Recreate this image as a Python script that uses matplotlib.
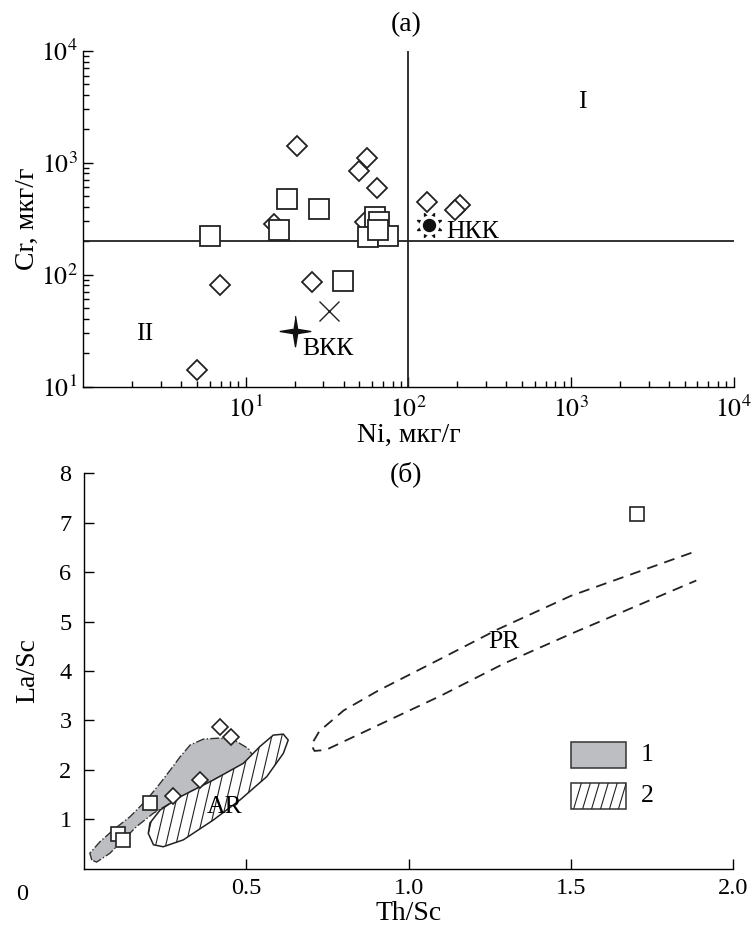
import numpy as np
import matplotlib
matplotlib.use('Agg')
import matplotlib.pyplot as plt
from matplotlib.patches import Polygon, Rectangle
from matplotlib.lines import Line2D

plt.rcParams['font.family'] = ['Liberation Serif', 'DejaVu Serif']
plt.rcParams['mathtext.fontset'] = 'stix'

# panel (а): Ni vs Cr, мкг/г
ni_diamond = [20.7, 55.5, 49.9, 63.9, 14.8, 54.1, 129.8, 208, 194, 6.94, 25.7, 4.99]
cr_diamond = [1403, 1102, 843, 594, 285, 295, 445, 416, 375, 81.5, 86.6, 14.1]
ni_square = [6.02, 18.0, 28.1, 16.0, 62.4, 66.0, 56.7, 75.3, 65.3, 39.8]
cr_square = [221, 470, 383, 252, 327, 295, 216, 219, 252, 87.3]
ni_cross, cr_cross = [32.6], [47.7]
ni_ucc, cr_ucc = [20.1], [31.6]     # ВКК
ni_lcc, cr_lcc = [134.6], [275]     # НКК
ni_limit, cr_limit = 100, 200

# panel (б): Th/Sc vs La/Sc
thsc_diamond = [0.419, 0.452, 0.357, 0.273]
lasc_diamond = [2.87, 2.66, 1.79, 1.47]
thsc_square = [0.203, 0.104, 0.119, 1.703]
lasc_square = [1.32, 0.70, 0.58, 7.17]

field1_x = [0.024, 0.018, 0.049, 0.090, 0.142, 0.193, 0.234, 0.270, 0.296, 0.327, 0.368, 0.419,
            0.470, 0.506, 0.522, 0.511, 0.470, 0.398, 0.327, 0.265, 0.214, 0.162, 0.121, 0.080, 0.039]
field1_y = [0.17, 0.31, 0.54, 0.78, 1.05, 1.39, 1.72, 2.03, 2.26, 2.50, 2.62, 2.64,
            2.57, 2.43, 2.26, 2.16, 2.03, 1.79, 1.55, 1.32, 1.12, 0.85, 0.58, 0.31, 0.13]
ar_x = [0.198, 0.214, 0.244, 0.306, 0.398, 0.481, 0.563, 0.614, 0.629, 0.614, 0.583,
        0.542, 0.491, 0.398, 0.296, 0.234, 0.203]
ar_y = [0.71, 0.48, 0.44, 0.58, 0.98, 1.39, 1.86, 2.33, 2.60, 2.72, 2.70,
        2.47, 2.13, 1.79, 1.45, 1.18, 0.92]
pr_x = [1.871, 1.5, 1.274, 1.1, 0.906, 0.80, 0.725, 0.700, 0.710, 0.745,
        0.906, 1.1, 1.294, 1.5, 1.886]
pr_y = [6.39, 5.52, 4.84, 4.25, 3.60, 3.20, 2.78, 2.50, 2.38, 2.40,
        2.90, 3.50, 4.15, 4.75, 5.83]

fs_tick = 17.5
fs_lab = 20
fs_ann = 18.5
ink = '#222222'

fig = plt.figure(figsize=(7.51, 9.26), dpi=100)
ax1 = fig.add_axes([83.3 / 751, 1 - 386.5 / 926, 650.2 / 751, 335.8 / 926])
ax2 = fig.add_axes([84 / 751, 1 - 868.5 / 926, 649.3 / 751, 395.2 / 926])

for ax in (ax1, ax2):
    ax.spines['top'].set_visible(False)
    ax.spines['right'].set_visible(False)
    ax.spines['left'].set_linewidth(1.0)
    ax.spines['bottom'].set_linewidth(1.0)

# ---- (а)
ax1.set_xscale('log')
ax1.set_yscale('log')
ax1.set_xlim(1, 1e4)
ax1.set_ylim(10, 1e4)
ax1.axvline(ni_limit, color=ink, lw=1.3)
ax1.axhline(cr_limit, color=ink, lw=1.3)

ax1.plot(ni_diamond, cr_diamond, 'D', ms=10, mfc='white', mec=ink, mew=1.3, ls='none')
ax1.plot(ni_square, cr_square, 's', ms=14, mfc='white', mec=ink, mew=1.3, ls='none')
ax1.plot(ni_cross, cr_cross, 'x', ms=14, mec=ink, mew=1.0, ls='none')
star = [(0, 1), (0.14, 0.14), (1, 0), (0.14, -0.14), (0, -1), (-0.14, -0.14), (-1, 0), (-0.14, 0.14)]
ax1.plot(ni_ucc, cr_ucc, marker=star, ms=22, color='#111111', ls='none')
ax1.plot(ni_lcc, cr_lcc, marker=(8, 1, 22.5), ms=19, color='#111111', ls='none')
ax1.plot(ni_lcc, cr_lcc, 'o', ms=13.5, mfc='white', mec='white', ls='none')
ax1.plot(ni_lcc, cr_lcc, 'o', ms=8.6, mfc='#111111', mec='#111111', ls='none')

ax1.text(170, 240, 'НКК', fontsize=fs_ann, ha='left', va='center')
ax1.text(22.3, 21.7, 'ВКК', fontsize=fs_ann, ha='left', va='center')
ax1.text(1183, 3490, 'I', fontsize=fs_ann, ha='center', va='center')
ax1.text(2.40, 29.5, 'II', fontsize=fs_ann, ha='center', va='center')
ax1.text(0.497, 1.077, '(а)', fontsize=fs_lab, ha='center', va='center', transform=ax1.transAxes)

ax1.set_xticks([10, 100, 1000, 10000])
ax1.set_xticklabels([r'$10^{1}$', r'$10^{2}$', r'$10^{3}$', r'$10^{4}$'])
ax1.set_yticks([10, 100, 1000, 10000])
ax1.set_yticklabels([r'$10^{1}$', r'$10^{2}$', r'$10^{3}$', r'$10^{4}$'])
ax1.tick_params(which='major', direction='in', length=7, width=1, labelsize=fs_tick + 1, pad=7)
ax1.tick_params(which='minor', direction='in', length=4, width=1)
ax1.tick_params(axis='y', pad=4)
ax1.set_xlabel('Ni, мкг/г', fontsize=fs_lab, labelpad=0)
ax1.set_ylabel('Cr, мкг/г', fontsize=fs_lab, labelpad=1)

# ---- (б)
ax2.set_xlim(0, 2.0)
ax2.set_ylim(0, 8)

field1 = Polygon(np.column_stack([field1_x, field1_y]), closed=True, fc='#bdbec1',
                 ec='#333333', lw=1.0, ls='-.', zorder=1)
ax2.add_patch(field1)
ar = Polygon(np.column_stack([ar_x, ar_y]), closed=True, fc='white', ec=ink,
             lw=1.1, zorder=2)
ax2.add_patch(ar)
ar_clip = Polygon(np.column_stack([ar_x, ar_y]), closed=True, transform=ax2.transData)
for x0 in np.arange(0.08, 0.75, 0.031):
    ln = Line2D([x0, x0 + 0.107], [0, 3], color=ink, lw=0.8, zorder=2.5)
    ax2.add_line(ln)
    ln.set_clip_path(ar_clip)
ax2.plot(pr_x, pr_y, color=ink, lw=1.3, dashes=(6, 4), zorder=2)

ax2.plot(thsc_diamond, lasc_diamond, 'D', ms=7.8, mfc='white', mec=ink, mew=1.2, ls='none', zorder=3)
ax2.plot(thsc_square, lasc_square, 's', ms=10.5, mfc='white', mec=ink, mew=1.2, ls='none', zorder=3)

ax2.text(0.434, 1.25, 'AR', fontsize=fs_ann, ha='center', va='center', zorder=4)
ax2.text(1.294, 4.58, 'PR', fontsize=fs_ann, ha='center', va='center')
ax2.text(0.496, 0.998, '(б)', fontsize=fs_lab, ha='center', va='center', transform=ax2.transAxes)

# legend boxes
lx0, lw_ = 0.750, 0.084
ax2.add_patch(Rectangle((lx0, 0.254), lw_, 0.065, transform=ax2.transAxes,
                        fc='#bdbec1', ec='#333333', lw=1.1))
box2 = Rectangle((lx0, 0.150), lw_, 0.066, transform=ax2.transAxes,
                 fc='white', ec='#333333', lw=1.1)
ax2.add_patch(box2)
for k in range(7):
    xs = lx0 + 0.004 + k * 0.0138
    ln = Line2D([xs, xs + 0.012], [0.150, 0.216], transform=ax2.transAxes, color=ink, lw=0.8)
    ax2.add_line(ln)
    ln.set_clip_path(box2)
ax2.text(0.857, 0.287, '1', fontsize=fs_ann, ha='left', va='center', transform=ax2.transAxes)
ax2.text(0.857, 0.183, '2', fontsize=fs_ann, ha='left', va='center', transform=ax2.transAxes)

ax2.set_xticks([0.5, 1.0, 1.5, 2.0])
ax2.set_xticklabels(['0.5', '1.0', '1.5', '2.0'])
ax2.set_yticks([1, 2, 3, 4, 5, 6, 7, 8])
ax2.tick_params(direction='in', length=7, width=1, labelsize=fs_tick)
ax2.tick_params(axis='y', pad=9)
ax2.tick_params(axis='x', pad=7)
ax2.text(-0.096, -0.067, '0', fontsize=fs_tick, ha='center', va='center', transform=ax2.transAxes)
ax2.set_xlabel('Th/Sc', fontsize=fs_lab, labelpad=1)
ax2.set_ylabel('La/Sc', fontsize=fs_lab, labelpad=14)

fig.savefig('out.png', dpi=100)
